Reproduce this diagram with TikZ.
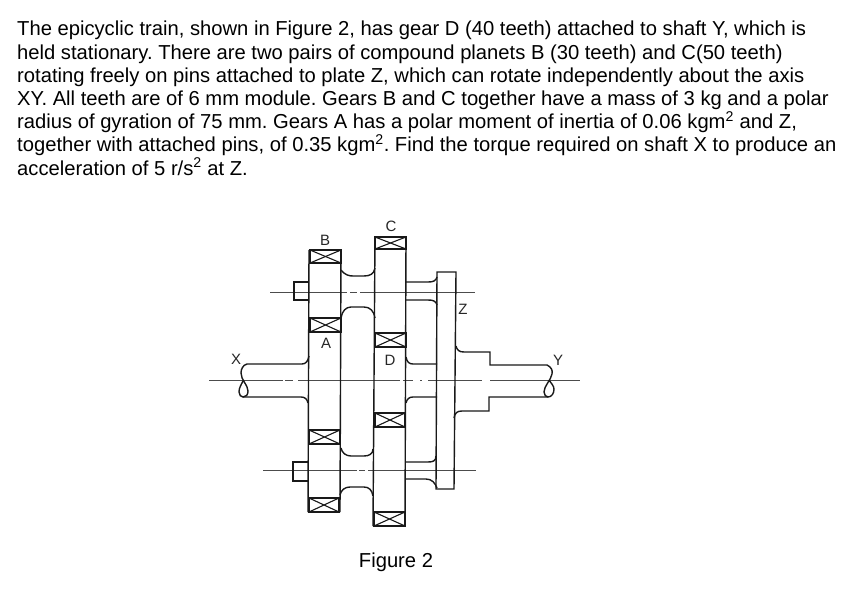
\documentclass[tikz,border=0pt]{standalone}
\usepackage{fontspec}
\setmainfont{Liberation Sans}
\tikzset{
  gearline/.style={
    draw,
    line width=1.4pt,
    black!90
  },
  crossline/.style={
    draw,
    line width=1.1pt,
    black!90
  },
  centreline/.style={
    draw,
    line width=0.8pt,
    black!70
  },
  bearing/.style={
    draw,
    line width=1.5pt,
    black!90
  },
  partlabel/.style={
    font=\fontsize{15}{17}\selectfont,
    inner sep=0pt,
    black!85
  }
}
% crossed box, from its corner to the opposite one
\newcommand{\crossbox}[2]{
  \draw[bearing] (#1) rectangle (#2);
  \draw[crossline] (#1) -- (#2);
  \draw[crossline] (#1 |- #2) -- (#2 |- #1);
}
\begin{document}
\frenchspacing
\begin{tikzpicture}[x=1pt,y=-1pt]
  \useasboundingbox (0,0) rectangle (860,594);
  \node[anchor=north west, inner sep=0pt, align=left, font=\fontsize{20.2}{23.2}\selectfont] (question) at (17,21) {%
    The epicyclic train, shown in Figure 2, has gear D (40 teeth) attached to shaft Y, which is\\
    held stationary. There are two pairs of compound planets B (30 teeth) and C(50 teeth)\\
    rotating freely on pins attached to plate Z, which can rotate independently about the axis\\
    XY. All teeth are of 6 mm module. Gears B and C together have a mass of 3 kg and a polar\\
    radius of gyration of 75 mm. Gears A has a polar moment of inertia of 0.06 kgm\textsuperscript{2} and Z,\\
    together with attached pins, of 0.35 kgm\textsuperscript{2}. Find the torque required on shaft X to produce an\\
    acceleration of 5 r/s\textsuperscript{2} at Z.};
  \node[font=\fontsize{20.2}{24}\selectfont, inner sep=0pt] (caption) at (396,562) {Figure 2};

  % centre lines
  \path[centreline] (209,380) -- (283,380) (285,380) -- (293,380) (298,380) -- (400,380)
    (403,380) -- (413,380) (420,380) -- (422,380) (428,380) -- (482,380) (490,380) -- (580,380);
  \path[centreline] (270,292) -- (347,292) (350,292) -- (357,292) (360,292) -- (475,292);
  \path[centreline] (263,470) -- (357,470) (359,470) -- (365,470) (368,470) -- (476,470);

  % gears B and A, left
  \path[gearline] (309,250) -- (308,512) (341,250) -- (340,512);
  \crossbox{310,250}{341,263}
  \crossbox{310,318}{341,332}
  \crossbox{309,430}{340,444}
  \crossbox{309,498}{339,512}
  % gears C and D
  \path[gearline] (375,237) -- (373,526) (406,237) -- (405,526);
  \crossbox{375,237}{406,249}
  \crossbox{375,333}{406,347}
  \crossbox{375,413}{405,427}
  \crossbox{374,512}{405,526}

  % pin ends
  \path[gearline] (309,282) -- (294,282) -- (294,300) -- (309,300);
  \path[gearline] (308,462) -- (293,462) -- (293,481) -- (308,481);

  % necks between B and C
  \path[gearline] (341,270) .. controls (345,275) and (349,276) .. (353,276) -- (364,276) .. controls (370,276) and (374,274) .. (375,268);
  \path[gearline] (341,318) .. controls (342,311) and (346,307) .. (351,307) -- (364,307) .. controls (370,307) and (374,311) .. (375,318);
  \path[gearline] (341,448) .. controls (342,453) and (346,456) .. (351,456) -- (364,456) .. controls (369,456) and (373,454) .. (373,449);
  \path[gearline] (340,495) .. controls (341,490) and (345,487) .. (350,487) -- (364,487) .. controls (369,487) and (372,490) .. (373,496);

  % necks between C and plate Z
  \path[gearline] (406,282) -- (428,282) .. controls (433,282) and (436,281) .. (437,277);
  \path[gearline] (406,300) -- (428,300) .. controls (433,300) and (436,301) .. (437,305);
  \path[gearline] (406,462) -- (428,462) .. controls (433,462) and (436,461) .. (436,456);
  \path[gearline] (406,479) -- (426,479) .. controls (432,479) and (435,483) .. (437,488);

  % plate Z
  \path[gearline] (437,272) -- (436,489) -- (454,489) -- (456,272) -- cycle;

  % hub of D
  \path[gearline] (406,357) .. controls (407,362) and (409,364) .. (413,364) -- (437,364);
  \path[gearline] (406,403) .. controls (407,399) and (409,397) .. (413,397) -- (437,397);

  % flange and shaft Y
  \path[gearline] (456,346) .. controls (457,350) and (459,352) .. (464,352) -- (490,352) -- (490,365) -- (547,365)
    .. controls (551,367) and (553,370) .. (552,374) .. controls (551,380) and (544,386) .. (544,392)
    .. controls (544,395) and (546,397) .. (548,397) .. controls (552,397) and (554,393) .. (554,389)
    .. controls (554,386) and (551,383) .. (549,380);
  \path[gearline] (454,418) .. controls (455,413) and (457,411) .. (462,411) -- (489,411) -- (489,397) -- (548,397);

  % shaft X
  \path[gearline] (309,356) .. controls (308,361) and (306,364) .. (302,364) -- (247,364)
    .. controls (243,365) and (241,369) .. (241,373) .. controls (241,380) and (248,385) .. (248,391)
    .. controls (248,395) and (246,397) .. (243,397) .. controls (241,397) and (239,395) .. (239,392)
    .. controls (239,388) and (241,385) .. (243,381);
  \path[gearline] (308,403) .. controls (307,399) and (305,397) .. (301,397) -- (243,397);

  % labels
  \node[partlabel] (labelB) at (325,240) {B};
  \node[partlabel] (labelC) at (391,226) {C};
  \node[partlabel] (labelA) at (326,343) {A};
  \node[partlabel] (labelD) at (390,360) {D};
  \node[partlabel] (labelZ) at (463,309) {Z};
  \node[partlabel] (labelX) at (236,359) {X};
  \node[partlabel] (labelY) at (558,360) {Y};
\end{tikzpicture}
\end{document}
